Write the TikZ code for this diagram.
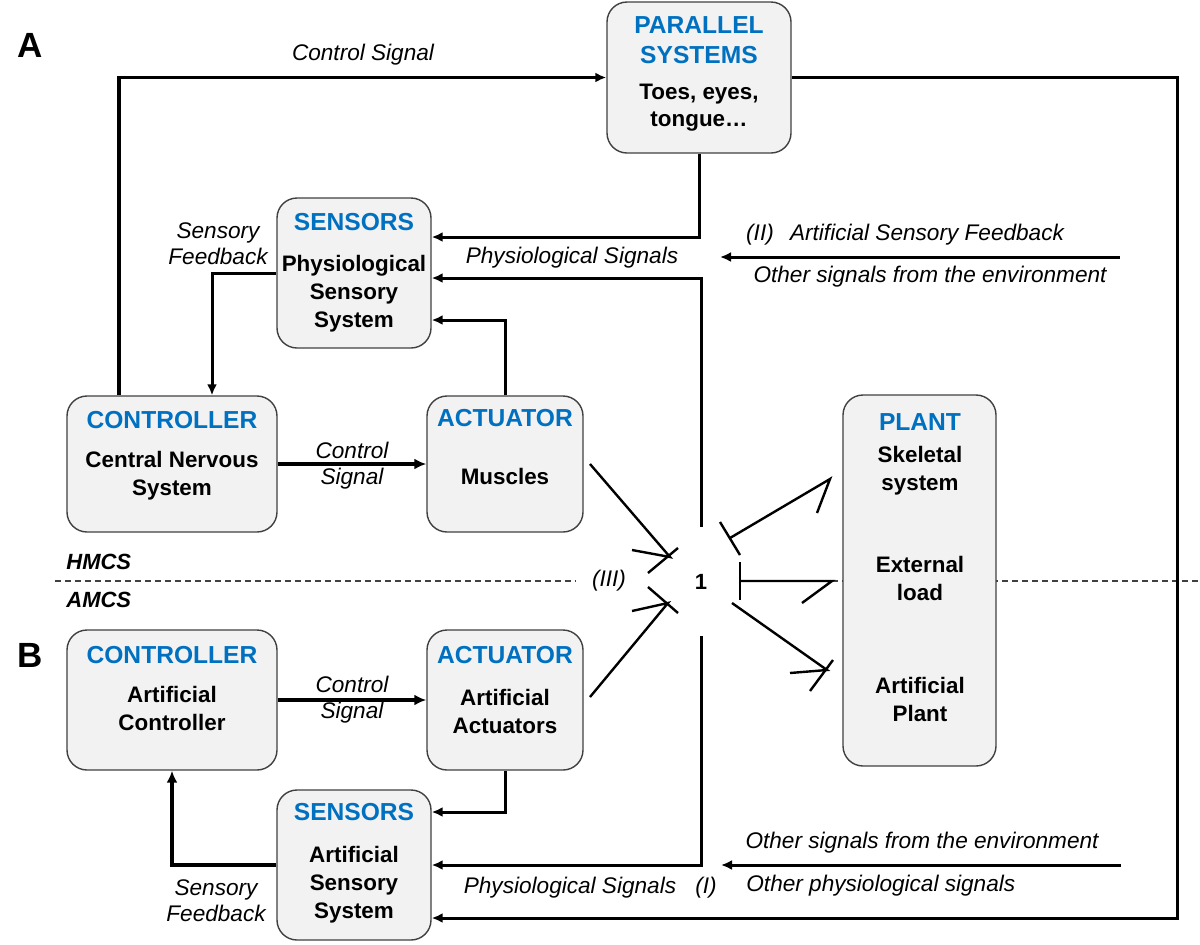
\documentclass[tikz,border=0pt]{standalone}
\usepackage{fontspec}
\setmainfont{Liberation Sans}
\usetikzlibrary{arrows.meta,fit}
\definecolor{headblue}{RGB}{0,112,192}
\definecolor{boxfill}{RGB}{242,242,242}
\definecolor{boxline}{RGB}{64,64,64}
\tikzset{
 box/.style={draw=boxline, fill=boxfill, rounded corners=10pt, line width=0.7pt, inner sep=0pt},
 head/.style={font=\fontsize{12.3}{15}\selectfont\bfseries, text=headblue, align=center, inner sep=0pt},
 body/.style={font=\fontsize{11.2}{14}\selectfont\bfseries, align=center, inner sep=0pt},
 lab/.style={font=\fontsize{11.3}{13}\selectfont\itshape, align=center, inner sep=0pt},
 blab/.style={font=\fontsize{11}{13}\selectfont\bfseries\itshape, inner sep=0pt},
 panel/.style={font=\fontsize{17.5}{20}\selectfont\bfseries, inner sep=0pt},
 conn/.style={line width=1.5pt, -{Latex[length=5.5pt,width=5pt]}},
 boldconn/.style={line width=2.3pt, -{Latex[length=6pt,width=5.5pt]}},
 jline/.style={line width=1.2pt},
 sepline/.style={line width=0.6pt, dash pattern=on 3pt off 2pt, draw=black!75},
}
\begin{document}
\begin{tikzpicture}[x=0.5pt,y=-0.5pt]
\useasboundingbox (0,0) rectangle (1200,944);
% separator
\coordinate (d1) at (55,581); \coordinate (d2) at (576,581);
\coordinate (d3) at (832,581); \coordinate (d4) at (1200,581);
\draw[sepline] (d1) -- (d2);
\draw[sepline] (d3) -- (d4);
% boxes
\node[box, fit={(607,2)(791,153)}] (par) {};
\node[box, fit={(277,198)(431,348)}] (sensA) {};
\node[box, fit={(67,396)(277,532)}] (ctlA) {};
\node[box, fit={(427,396)(583,532)}] (actA) {};
\node[box, fit={(843,395)(996,766)}] (plant) {};
\node[box, fit={(67,630)(277,770)}] (ctlB) {};
\node[box, fit={(427,630)(583,770)}] (actB) {};
\node[box, fit={(277,790)(431,940)}] (sensB) {};
% box texts
\node[head] (parH) at (699,40) {PARALLEL\\SYSTEMS};
\node[body,font=\fontsize{11.2}{13.5}\selectfont\bfseries] (parB) at (699,108) {Toes, eyes,\\tongue…};
\node[head] (sensAH) at (354,222) {SENSORS};
\node[body] (sensAB) at (354,294) {Physiological\\Sensory\\System};
\node[head] (ctlAH) at (172,420) {CONTROLLER};
\node[body] (ctlAB) at (172,476) {Central Nervous\\System};
\node[head] (actAH) at (505,418) {ACTUATOR};
\node[body] (actAB) at (505,476) {Muscles};
\node[head] (plantH) at (920,422) {PLANT};
\node[body] (plantB1) at (920,471) {Skeletal\\system};
\node[body] (plantB2) at (920,578) {External\\load};
\node[body] (plantB3) at (920,699) {Artificial\\Plant};
\node[head] (ctlBH) at (172,655) {CONTROLLER};
\node[body] (ctlBB) at (172,708) {Artificial\\Controller};
\node[head] (actBH) at (505,655) {ACTUATOR};
\node[body] (actBB) at (505,711) {Artificial\\Actuators};
\node[head] (sensBH) at (354,812) {SENSORS};
\node[body] (sensBB) at (354,885) {Artificial\\Sensory\\System};
% panel letters and labels
\node[panel] (pA) at (30,45) {A};
\node[panel] (pB) at (30,655) {B};
\node[blab, anchor=west] (hmcs) at (66,562) {HMCS};
\node[blab, anchor=west] (amcs) at (66,600) {AMCS};
\node[lab] (lcs) at (363,55) {Control Signal};
\node[lab] (lsfA) at (218,244) {Sensory\\Feedback};
\node[lab] (lpsA) at (572,258) {Physiological Signals};
\node[lab] (lII) at (760,235) {(II)};
\node[lab] (lasf) at (927,235) {Artificial Sensory Feedback};
\node[lab] (loseA) at (930,277) {Other signals from the environment};
\node[lab] (lcsA) at (352,466) {Control\\Signal};
\node[lab] (lcsB) at (352,700) {Control\\Signal};
\node[lab] (lIII) at (609,581) {(III)};
\node[font=\fontsize{11}{13}\selectfont\bfseries, inner sep=0pt] (one) at (701,582) {1};
\node[lab] (lsfB) at (216,901) {Sensory\\Feedback};
\node[lab] (lpsB) at (570,888) {Physiological Signals};
\node[lab] (lI) at (706,888) {(I)};
\node[lab] (loseB) at (922,843) {Other signals from the environment};
\node[lab, anchor=west] (lops) at (746,886) {Other physiological signals};
% connectors
\coordinate (csx) at (119,0);
\draw[conn, line width=1.7pt] (csx |- ctlA.north) |- (par.west);
\coordinate (loop) at (1177,918);
\draw[conn] (par.east) -| (loop) -- (loop -| sensB.east);
\draw[conn] (par.south) |- ([yshift=18pt]sensA.east);
\coordinate (vtop) at (701,527);
\draw[conn] (vtop) |- ([yshift=-2.5pt]sensA.east);
\draw[conn] (actA.north) |- ([yshift=-23.5pt]sensA.east);
\coordinate (sfx) at (212,0);
\draw[conn] (sensA.west) -| (sfx |- ctlA.north);
\draw[boldconn] (ctlA.east) -- (actA.west);
\draw[boldconn] (ctlB.east) -- (actB.west);
\draw[conn] (actB.south) |- ([yshift=26.5pt]sensB.east);
\coordinate (vbot) at (701,636);
\draw[conn] (vbot) |- (sensB.east);
\draw[boldconn] (sensB.west) -| (ctlB.south);
\coordinate (iiS) at (1120,257); \coordinate (iiE) at (720,257);
\draw[conn] (iiS) -- (iiE);
\coordinate (iS) at (1121,865); \coordinate (iE) at (721,865);
\draw[conn] (iS) -- (iE);
% junction (1)
\coordinate (j1s) at (590,464); \coordinate (j1t) at (670,557);
\draw[jline] (j1s) -- (j1t) -- (632,550);
\draw[jline] (648,573) -- (678,548);
\coordinate (j2s) at (590,697); \coordinate (j2t) at (668,603);
\draw[jline] (j2s) -- (j2t) -- (632,611);
\draw[jline] (648,587) -- (678,613);
\coordinate (k1s) at (730,538); \coordinate (k1t) at (830,479);
\draw[jline] (720,522) -- (740,555);
\draw[jline] (k1s) -- (k1t) -- (817,513);
\coordinate (k2s) at (740,581); \coordinate (k2t) at (832,581);
\draw[jline] (740,562) -- (740,600);
\draw[jline] (k2s) -- (k2t) -- (802,603);
\coordinate (k3s) at (732,603); \coordinate (k3t) at (827,670);
\draw[jline] (k3s) -- (k3t) -- (790,673);
\draw[jline] (833,660) -- (810,691);
\end{tikzpicture}
\end{document}
